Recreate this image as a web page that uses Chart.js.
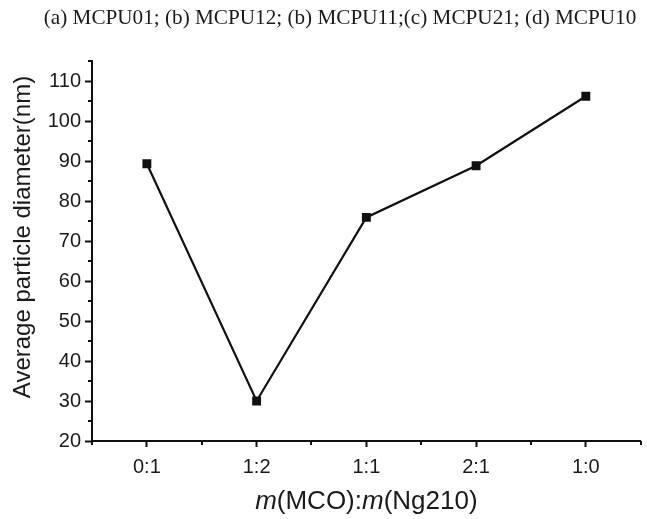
<!DOCTYPE html>
<html>
<head>
<meta charset="utf-8">
<script src="https://cdn.jsdelivr.net/npm/chart.js@4"></script>
<style>
html,body{margin:0;padding:0;background:#fff;}
#wrap{width:647px;height:519px;position:relative;}
</style>
</head>
<body>
<div id="wrap"><canvas id="c" width="647" height="519"></canvas></div>
<script>
// ---- data ----
const categories = ['0:1', '1:2', '1:1', '2:1', '1:0'];
const diameters = [89.3, 30.0, 75.9, 88.8, 106.2];
const yTicks = [20, 30, 40, 50, 60, 70, 80, 90, 100, 110];
const chartTitle = '(a) MCPU01; (b) MCPU12; (b) MCPU11;(c) MCPU21; (d) MCPU10';
const yTitle = 'Average particle diameter(nm)';
const xTitleParts = [['m', true], ['(MCO):', false], ['m', true], ['(Ng210)', false]];

const INK = '#111';
const TEXT = '#1a1a1a';
const SANS = '"Liberation Sans", Arial, sans-serif';
const SERIF = '"Liberation Serif", "Times New Roman", serif';
const points = categories.map((c, i) => ({x: i, y: diameters[i]}));

const extras = {
  id: 'extras',
  afterDraw(chart) {
    const ctx = chart.ctx;
    const xs = chart.scales.x, ys = chart.scales.y;
    const ca = chart.chartArea;
    ctx.save();
    ctx.strokeStyle = INK;
    ctx.lineWidth = 2;
    // x minor ticks (halfway between categories), pointing down
    for (let v = -0.5; v <= categories.length - 0.5 + 1e-9; v += 1) {
      const px = Math.round(xs.getPixelForValue(v));
      ctx.beginPath();
      ctx.moveTo(px, ca.bottom);
      ctx.lineTo(px, ca.bottom + 4);
      ctx.stroke();
    }
    // y minor ticks, pointing left
    for (let v = yTicks[0] + 5; v <= ys.max + 1e-9; v += 10) {
      const py = Math.round(ys.getPixelForValue(v));
      ctx.beginPath();
      ctx.moveTo(ca.left, py);
      ctx.lineTo(ca.left - 4, py);
      ctx.stroke();
    }
    ctx.fillStyle = TEXT;
    ctx.textBaseline = 'middle';
    // chart title
    ctx.textAlign = 'center';
    ctx.font = '21.2px ' + SERIF;
    ctx.fillText(chartTitle, 340, 18);
    // x axis title with italic parts
    const fontSize = 26;
    let total = 0;
    const widths = xTitleParts.map(([t, it]) => {
      ctx.font = (it ? 'italic ' : '') + fontSize + 'px ' + SANS;
      const w = ctx.measureText(t).width;
      total += w;
      return w;
    });
    let x = (ca.left + ca.right) / 2 - total / 2;
    ctx.textAlign = 'left';
    xTitleParts.forEach(([t, it], i) => {
      ctx.font = (it ? 'italic ' : '') + fontSize + 'px ' + SANS;
      ctx.fillText(t, x, 502);
      x += widths[i];
    });
    // y axis title
    ctx.translate(23, 237);
    ctx.rotate(-Math.PI / 2);
    ctx.textAlign = 'center';
    ctx.font = '24px ' + SANS;
    ctx.fillText(yTitle, 0, 0);
    ctx.restore();
  }
};

new Chart(document.getElementById('c'), {
  type: 'line',
  data: {
    datasets: [{
      data: points,
      borderColor: INK,
      borderWidth: 2.2,
      backgroundColor: INK,
      pointStyle: 'rect',
      pointRadius: 6.3,
      pointHoverRadius: 6.3,
      pointBorderWidth: 0,
      tension: 0,
      fill: false
    }]
  },
  options: {
    responsive: false,
    animation: false,
    devicePixelRatio: 1,
    layout: {padding: {left: 0, right: 4, top: 61, bottom: 0}},
    plugins: {
      legend: {display: false},
      tooltip: {enabled: false},
      title: {display: false}
    },
    scales: {
      x: {
        type: 'linear',
        min: -0.5,
        max: categories.length - 0.5,
        afterBuildTicks(scale) {
          scale.ticks = categories.map((c, i) => ({value: i}));
        },
        afterFit(scale) { scale.height = 78; },
        ticks: {
          color: TEXT,
          font: {family: SANS, size: 20},
          padding: 8,
          maxRotation: 0,
          autoSkip: false,
          callback: (v) => categories[v]
        },
        grid: {drawOnChartArea: false, drawTicks: true, tickLength: 6, tickWidth: 2, tickColor: INK},
        border: {display: true, color: INK, width: 2},
        title: {display: false}
      },
      y: {
        type: 'linear',
        min: 20,
        max: 115,
        afterBuildTicks(scale) {
          scale.ticks = yTicks.map(v => ({value: v}));
        },
        afterFit(scale) { scale.width = 92; },
        ticks: {
          color: TEXT,
          font: {family: SANS, size: 20},
          padding: 4,
          autoSkip: false
        },
        grid: {drawOnChartArea: false, drawTicks: true, tickLength: 7, tickWidth: 2, tickColor: INK},
        border: {display: true, color: INK, width: 2},
        title: {display: false}
      }
    }
  },
  plugins: [extras]
});
</script>
</body>
</html>
